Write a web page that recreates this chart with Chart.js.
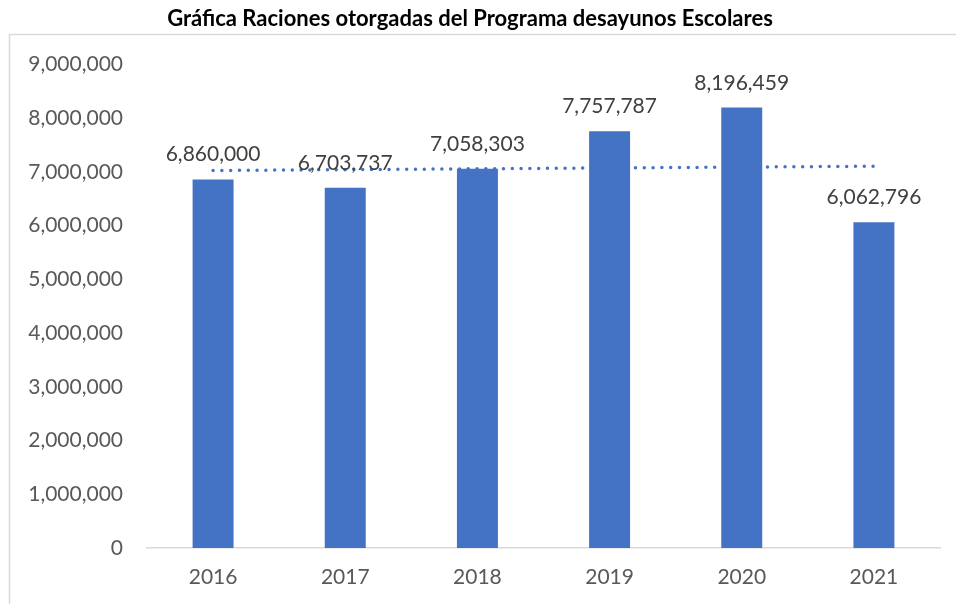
<!DOCTYPE html>
<html>
<head>
<meta charset="utf-8">
<script src="https://cdn.jsdelivr.net/npm/chart.js@4"></script>
<style>
  html, body { margin: 0; padding: 0; background: #fff; }
  #wrap { width: 956px; height: 604px; }
</style>
</head>
<body>
<div id="wrap"><canvas id="myChart"></canvas></div>
<script>
var years = ["2016", "2017", "2018", "2019", "2020", "2021"];
var raciones = [6860000, 6703737, 7058303, 7757787, 8196459, 6062796];
// linear trend line, only the two ends
var trend = [7025000, null, null, null, null, 7105000];
var yTicks = [0, 1000000, 2000000, 3000000, 4000000, 5000000, 6000000, 7000000, 8000000, 9000000];

var barColor = "#4472C4";
var fontName = "Lato, 'Open Sans', sans-serif";

function fmt(v) {
  return Number(v).toLocaleString("en-US");
}

// frame around the chart, like the spreadsheet chart border
var framePlugin = {
  id: "frame",
  beforeDraw: function (chart) {
    var ctx = chart.ctx;
    ctx.save();
    ctx.strokeStyle = "#D9D9D9";
    ctx.lineWidth = 1.5;
    ctx.beginPath();
    ctx.moveTo(9.5, 604);
    ctx.lineTo(9.5, 34.5);
    ctx.lineTo(956, 34.5);
    ctx.stroke();
    ctx.restore();
  }
};

// value labels above each bar
var labelPlugin = {
  id: "barLabels",
  afterDatasetsDraw: function (chart) {
    var ctx = chart.ctx;
    var meta = chart.getDatasetMeta(1);
    ctx.save();
    ctx.font = "21px " + fontName;
    ctx.fillStyle = "#404040";
    ctx.textAlign = "center";
    ctx.textBaseline = "alphabetic";
    meta.data.forEach(function (bar, i) {
      ctx.fillText(fmt(raciones[i]), bar.x, bar.y - 18);
    });
    ctx.restore();
  }
};

new Chart("myChart", {
  data: {
    labels: years,
    datasets: [{
      type: "line",
      data: trend,
      spanGaps: true,
      borderColor: barColor,
      borderWidth: 3.5,
      borderDash: [0, 8.8],
      borderCapStyle: "round",
      pointRadius: 0,
      fill: false,
      order: 0
    }, {
      type: "bar",
      data: raciones,
      backgroundColor: barColor,
      barPercentage: 0.31,
      categoryPercentage: 1,
      order: 1
    }]
  },
  options: {
    responsive: true,
    maintainAspectRatio: false,
    animation: false,
    layout: { padding: { left: 0, right: 16, top: 0, bottom: 0 } },
    plugins: {
      legend: { display: false },
      tooltip: { enabled: false },
      title: {
        display: true,
        text: "Gráfica Raciones otorgadas del Programa desayunos Escolares",
        color: "#000000",
        font: { family: fontName, size: 22, weight: "bold" },
        padding: { top: 6, bottom: 32 }
      }
    },
    scales: {
      x: {
        grid: { display: false, drawTicks: false },
        border: { display: true, color: "#D9D9D9", width: 1.5 },
        ticks: {
          color: "#595959",
          font: { family: fontName, size: 21 },
          padding: 17
        },
        afterFit: function (scale) { scale.height = 56; }
      },
      y: {
        min: 0,
        max: 9000000,
        grid: { display: false, drawTicks: false },
        border: { display: false },
        afterBuildTicks: function (scale) {
          scale.ticks = yTicks.map(function (v) { return { value: v }; });
        },
        ticks: {
          color: "#595959",
          font: { family: fontName, size: 21 },
          padding: 24,
          callback: function (v) { return fmt(v); }
        },
        afterFit: function (scale) { scale.width = 147; }
      }
    }
  },
  plugins: [framePlugin, labelPlugin]
});
</script>
</body>
</html>
